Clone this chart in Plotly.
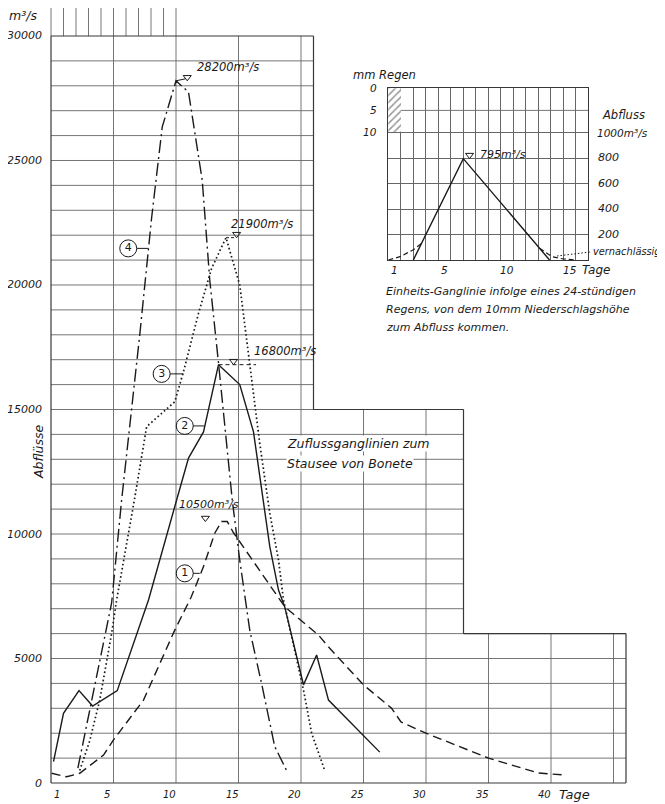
import plotly.graph_objects as go

# ---------------- data ----------------
# Zuflussganglinien zum Stausee von Bonete  (day, m3/s)
days_c1 = [0.05, 1.25, 2.3, 4.2, 5.0, 7.4, 9.9, 11.2, 12.2, 13.1, 13.65, 14.1, 14.6,
           18.7, 21.4, 22.3, 25.0, 27.25, 28.0, 30.0, 35.0, 39.0, 41.1]
flow_c1 = [390, 250, 390, 1120, 1730, 3330, 6140, 7450, 8690, 10030, 10500, 10500, 10050,
           7080, 5940, 5410, 3940, 3000, 2450, 2000, 1000, 400, 320]

days_c2 = [0.2, 1.0, 2.24, 3.33, 5.3, 7.8, 10.05, 11.0, 12.2, 13.4, 15.1, 16.2, 17.5,
           18.2, 18.7, 20.2, 21.25, 22.2, 26.3]
flow_c2 = [860, 2800, 3710, 3090, 3710, 7350, 11365, 13050, 14100, 16800, 16000, 14100, 9500,
           7750, 7070, 3940, 5140, 3330, 1240]

days_c3 = [2.3, 3.1, 3.9, 4.85, 5.25, 6.67, 7.65, 9.9, 10.6, 11.8, 12.85, 14.0, 15.1, 15.9,
           16.7, 17.5, 18.2, 18.6, 19.65, 20.2, 20.85, 21.9]
flow_c3 = [500, 1700, 3330, 6010, 7350, 11365, 14310, 15310, 16520, 18860, 20670, 21900, 20000, 16860,
           13640, 10840, 8960, 7350, 4940, 3735, 2000, 500]

days_c4 = [2.15, 3.0, 3.9, 4.85, 5.65, 6.2, 7.1, 8.05, 8.9, 10.0, 11.0, 12.1, 12.7, 13.4,
           14.5, 15.1, 15.9, 16.9, 17.9, 18.9]
flow_c4 = [600, 2700, 5000, 7230, 11365, 13900, 18000, 22700, 26350, 28200, 27750, 24200, 20200, 16870,
           11365, 8950, 6140, 3870, 1460, 450]

curve_names = ["1", "2", "3", "4"]
peak_days = [13.9, 13.4, 14.0, 10.0]
peak_flows = [10500, 16800, 21900, 28200]
peak_texts = ["10500m³/s", "16800m³/s", "21900m³/s", "28200m³/s"]

x_ticks = [1, 5, 10, 15, 20, 25, 30, 35, 40]
y_ticks = [0, 5000, 10000, 15000, 20000, 25000, 30000]

# Einheits-Ganglinie (unit hydrograph), inset
uh_days = [2.0, 6.0, 12.9]
uh_flow = [0, 795, 0]
uh_left_days = [0.0, 0.93, 1.97, 2.67]
uh_left_flow = [0, 26, 78, 130]
uh_right_days = [12.1, 13.1, 14.0, 15.0]
uh_right_flow = [92, 26, 8, 0]
rain_days = [0.5]
rain_mm = [10]
uh_x_ticks = [1, 5, 10, 15]
uh_y_ticks = [200, 400, 600, 800]
rain_ticks = [0, 5, 10]

# ---------------- geometry ----------------
# the page body has an 8 px margin, so the figure is placed at (8, 8)
OFF = 8
W, H = 665 - OFF, 804 - OFF
ML, MT, MB = 42, 0, 19
XR = [-0.08, 46.08]
YR = [-80, 31124]
PW = 577
MR = W - ML - PW
PH = H - MT - MB
SX = PW / (XR[1] - XR[0])
SY = PH / (YR[1] - YR[0])


def px_x(X):  # reference page px -> figure px
    return X - OFF


def px_y(Y):
    return Y - OFF


def dx(X):
    return XR[0] + (px_x(X) - ML) / SX


def dy(Y):
    return YR[0] + (H - MB - px_y(Y)) / SY


def paper_x(X):
    return (px_x(X) - ML) / PW


def paper_y(Y):
    return (H - MB - px_y(Y)) / PH


INK = "#1a1a1a"
GRIDC = "#666666"
FONT = "DejaVu Sans"

fig = go.Figure()

# ---------------- main curves ----------------
styles = [
    dict(dash="9px,5px", width=1.4),
    dict(dash="solid", width=1.4),
    dict(dash="1.6px,2.6px", width=1.7),
    dict(dash="13px,4px,2px,4px", width=1.4),
]
for d, f, st, nm in zip([days_c1, days_c2, days_c3, days_c4],
                        [flow_c1, flow_c2, flow_c3, flow_c4], styles, curve_names):
    fig.add_trace(go.Scatter(x=d, y=f, mode="lines", name=nm,
                             line=dict(color=INK, width=st["width"], dash=st["dash"]),
                             showlegend=False, hoverinfo="skip"))

# ---------------- grid (stepped) ----------------
shapes = []


def seg(x0, y0, x1, y1, color=GRIDC, width=0.9, dash="solid", xref="x", yref="y", layer="below"):
    shapes.append(dict(type="line", x0=x0, y0=y0, x1=x1, y1=y1, xref=xref, yref=yref,
                       line=dict(color=color, width=width, dash=dash), layer=layer))


def right_limit(v):
    if v <= 6000:
        return 46
    if v <= 15000:
        return 33
    return 21


for v in range(1000, 30000, 1000):
    seg(0, v, right_limit(v), v)
for d in [5, 10, 15, 20]:
    seg(d, 0, d, 30000)
for d in [25, 30]:
    seg(d, 0, d, 15000)
for d in [35, 40, 45]:
    seg(d, 0, d, 6000)
for d in range(0, 11):
    seg(d, 30000, d, YR[1])
BC, BW = "#383838", 1.2
for (x0, y0, x1, y1) in [(0, 0, 0, 30000), (0, 30000, 21, 30000), (21, 30000, 21, 15000),
                         (21, 15000, 33, 15000), (33, 15000, 33, 6000), (33, 6000, 46, 6000),
                         (46, 6000, 46, 0), (46, 0, 0, 0)]:
    seg(x0, y0, x1, y1, color=BC, width=BW)

# peak leader lines
seg(peak_days[3], peak_flows[3], peak_days[3] + 0.75, peak_flows[3] + 80, color=INK, width=1, layer="above")
seg(peak_days[2], peak_flows[2], peak_days[2] + 0.75, peak_flows[2], color=INK, width=1, dash="3px,2px", layer="above")
seg(peak_days[1], peak_flows[1], peak_days[1] + 3.0, peak_flows[1], color=INK, width=1, dash="4px,3px", layer="above")

annotations = []


def txt(text, X, Y, size=11, xanchor="left", yanchor="middle", angle=0, bg=None, style="italic"):
    a = dict(text=text, x=paper_x(X), y=paper_y(Y), xref="paper", yref="paper", showarrow=False,
             xanchor=xanchor, yanchor=yanchor, textangle=angle,
             font=dict(family=FONT, size=size, color=INK, style=style))
    if bg:
        a["bgcolor"] = bg
        a["borderpad"] = 0
    annotations.append(a)


# peak markers (▽) drawn as open down-triangles sitting on the peak level
tri_offsets = [-1.55, 1.2, 0.85, 0.9]
TRI_LIFT = 3.5 / SY
fig.add_trace(go.Scatter(x=[p + o for p, o in zip(peak_days, tri_offsets)],
                         y=[f + TRI_LIFT for f in peak_flows], mode="markers",
                         marker=dict(symbol="triangle-down-open", size=7, color=INK,
                                     line=dict(width=1, color=INK)),
                         showlegend=False, hoverinfo="skip"))

# peak texts
txt(peak_texts[3], 195, 67, size=11.5)
txt(peak_texts[2], 229, 224, size=11.5)
txt(peak_texts[1], 252, 351, size=11.5)
txt(peak_texts[0], 177, 504, size=11)

# circle labels with leaders
circ_pos = [(10.7, 8420, 11.9), (10.7, 14340, 12.3), (8.85, 16430, 10.6), (6.18, 21470, 7.78)]
fig.add_trace(go.Scatter(x=[c[0] for c in circ_pos], y=[c[1] for c in circ_pos],
                         mode="markers+text", text=curve_names, textposition="middle center",
                         textfont=dict(family=FONT, size=11, color=INK),
                         marker=dict(symbol="circle-open", size=17, color=INK, line=dict(width=1)),
                         showlegend=False, hoverinfo="skip"))
for cx, cy, ex in circ_pos:
    seg(cx + 0.68, cy, ex, cy, color=INK, width=1, layer="above")

# axis labels
for v in y_ticks:
    annotations.append(dict(text=str(v), x=paper_x(44), y=v, xref="paper", yref="y",
                            showarrow=False, xanchor="right", yanchor="middle",
                            font=dict(family=FONT, size=11, color=INK, style="italic")))
for d in x_ticks:
    annotations.append(dict(text=str(d), x=d - 0.5, y=paper_y(794), xref="x", yref="paper",
                            showarrow=False, xanchor="center", yanchor="middle",
                            font=dict(family=FONT, size=10, color=INK, style="italic")))
txt("Tage", 557, 795, size=13)
txt("m³/s", 23, 15, size=12.5, xanchor="center")
txt("Abflüsse", 38, 452, size=12.5, xanchor="center", angle=-90)
txt("Zuflussganglinien zum", 286, 443, size=12.5, bg="white")
txt("Stausee von Bonete", 286, 464, size=12.5, bg="white")

# ---------------- inset (unit hydrograph) ----------------
ix0, ix1, iy0, iy1 = 388.3, 588.3, 88.3, 260.0
inset_xr = [0, (ix1 - ix0) / 12.5]
inset_yr = [0, (iy1 - iy0) / 0.1275]
rain_range = [10 * inset_yr[1] / (inset_yr[1] - 1000), 0]  # 0 mm at top, 10 mm on the 1000 line

fig.add_trace(go.Bar(x=rain_days, y=rain_mm, width=1, xaxis="x2", yaxis="y3",
                     marker=dict(color="white", line=dict(width=0),
                                 pattern=dict(shape="/", fgcolor="#333", bgcolor="white",
                                              size=5, solidity=0.3)),
                     showlegend=False, hoverinfo="skip"))
fig.add_trace(go.Scatter(x=uh_days, y=uh_flow, mode="lines", xaxis="x2", yaxis="y2",
                         line=dict(color=INK, width=1.4), showlegend=False, hoverinfo="skip"))
for d, f in [(uh_left_days, uh_left_flow), (uh_right_days, uh_right_flow)]:
    fig.add_trace(go.Scatter(x=d, y=f, mode="lines", xaxis="x2", yaxis="y2",
                             line=dict(color=INK, width=1.2, dash="5px,3px"),
                             showlegend=False, hoverinfo="skip"))
fig.add_trace(go.Scatter(x=[uh_days[1] + 0.5], y=[uh_flow[1] + 3.5 / 0.1275], mode="markers",
                         xaxis="x2", yaxis="y2",
                         marker=dict(symbol="triangle-down-open", size=7, color=INK,
                                     line=dict(width=1, color=INK)),
                         showlegend=False, hoverinfo="skip"))

seg(0, 5, inset_xr[1], 5, xref="x2", yref="y3")
seg(dx(557), dy(256), dx(590), dy(252), color=INK, width=1, dash="1.5px,2px", layer="above")

for v in uh_y_ticks:
    annotations.append(dict(text=str(v), x=paper_x(596), y=v, xref="paper", yref="y2",
                            showarrow=False, xanchor="left", yanchor="middle",
                            font=dict(family=FONT, size=11, color=INK, style="italic")))
for v in rain_ticks:
    annotations.append(dict(text=str(v), x=paper_x(379), y=v, xref="paper", yref="y3",
                            showarrow=False, xanchor="right", yanchor="middle",
                            font=dict(family=FONT, size=10.5, color=INK, style="italic")))
for d in uh_x_ticks:
    annotations.append(dict(text=str(d), x=d - 0.5, y=paper_y(270), xref="x2", yref="paper",
                            showarrow=False, xanchor="center", yanchor="middle",
                            font=dict(family=FONT, size=10.5, color=INK, style="italic")))
txt("Tage", 580, 270, size=12)
txt("mm Regen", 384, 75, size=11.5, xanchor="center")
txt("Abfluss", 600, 115, size=11.5)
txt("1000m³/s", 595, 133, size=10.5)
txt("795m³/s", 478, 155, size=11)
txt("vernachlässig", 591, 252, size=9.8)
txt("Einheits-Ganglinie infolge eines 24-stündigen", 384, 291, size=11)
txt("Regens, von dem 10mm Niederschlagshöhe", 384, 309, size=11)
txt("zum Abfluss kommen.", 384, 327, size=11)

fig.update_layout(
    width=W, height=H,
    margin=dict(l=ML, r=MR, t=MT, b=MB, pad=0),
    paper_bgcolor="white", plot_bgcolor="white",
    font=dict(family=FONT, color=INK),
    shapes=shapes, annotations=annotations,
    showlegend=False, bargap=0,
    xaxis=dict(range=XR, showgrid=False, zeroline=False, showticklabels=False, showline=False,
               fixedrange=True),
    yaxis=dict(range=YR, showgrid=False, zeroline=False, showticklabels=False, showline=False,
               fixedrange=True),
    xaxis2=dict(domain=[paper_x(ix0), paper_x(ix1)], anchor="y2", range=inset_xr,
                tickvals=list(range(1, 16)), showgrid=True, gridcolor=GRIDC, gridwidth=0.9,
                showticklabels=False, ticks="", zeroline=False, showline=True, mirror=True,
                linecolor=BC, linewidth=1.1),
    yaxis2=dict(domain=[paper_y(iy1), paper_y(iy0)], anchor="x2", range=inset_yr,
                tickvals=[200, 400, 600, 800, 1000], showgrid=True, gridcolor=GRIDC, gridwidth=0.9,
                showticklabels=False, ticks="", zeroline=False, showline=True, mirror=True,
                linecolor=BC, linewidth=1.1),
    yaxis3=dict(overlaying="y2", anchor="x2", range=rain_range, showgrid=False,
                showticklabels=False, ticks="", zeroline=False, showline=False),
)

fig.write_html("out.html")
